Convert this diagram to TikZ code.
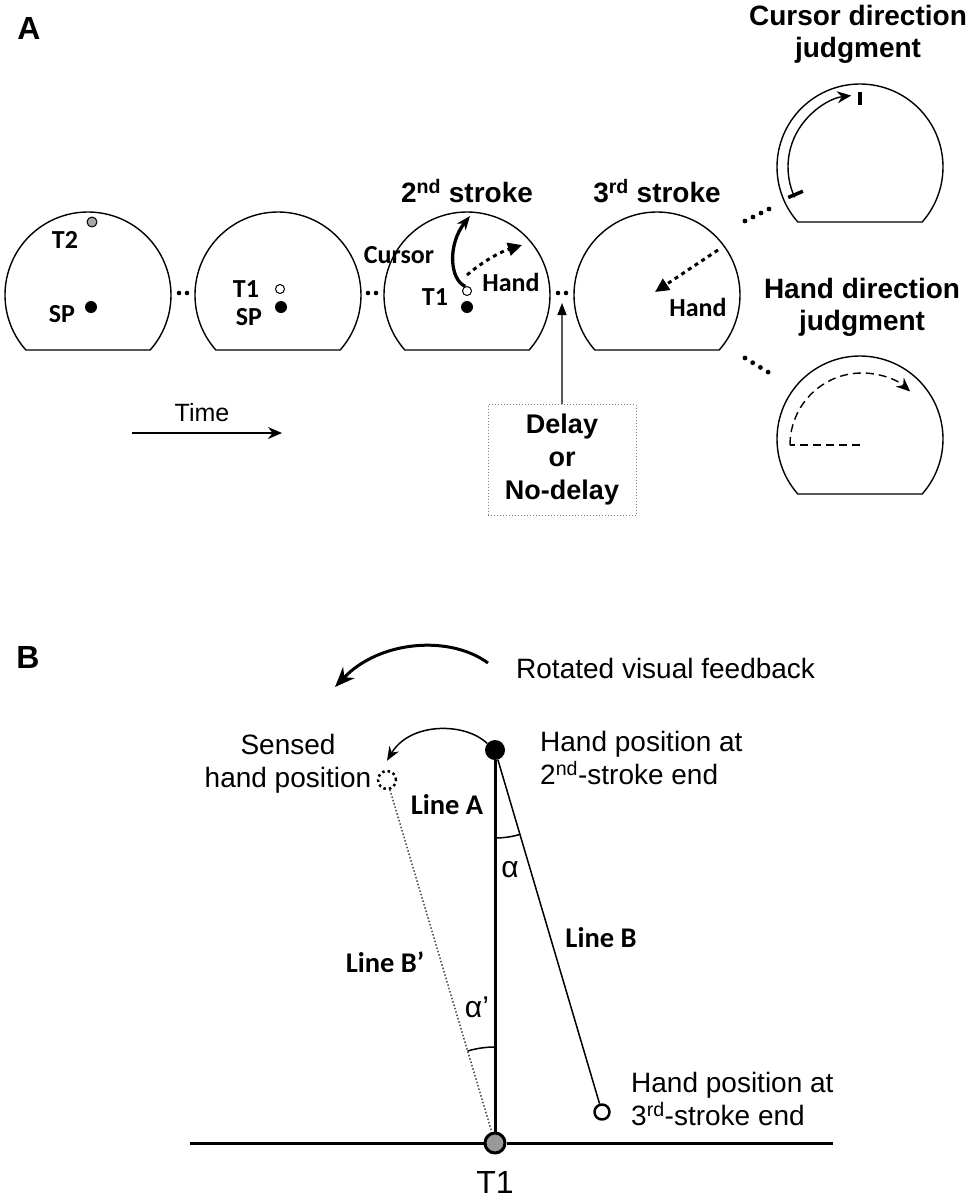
\documentclass[tikz,border=0pt]{standalone}
\usepackage{fontspec}
\setmainfont{Liberation Sans}
\newfontfamily\calfont{Carlito}
\usetikzlibrary{arrows.meta}
\begin{document}
\begin{tikzpicture}[x=1pt, y=1pt, line join=round,
  >={Stealth[length=14pt,width=12pt]},
  dome/.style={line width=1.4pt},
  lab/.style={font=\calfont\bfseries\fontsize{26}{30}\selectfont, inner sep=0pt},
  ttl/.style={font=\bfseries\fontsize{28}{32}\selectfont, align=center, inner sep=0pt},
  txt/.style={font=\fontsize{28}{33}\selectfont, align=left, inner sep=0pt},
  linelab/.style={font=\calfont\bfseries\fontsize{28.5}{30}\selectfont},
  bdot/.style={circle, fill=black, inner sep=0pt, minimum size=12pt},
  odot/.style={circle, draw=black, line width=1pt, fill=white, inner sep=0pt, minimum size=9pt},
  dotarrow/.style={line width=3pt, dash pattern=on 4pt off 4pt, -{Triangle[length=14pt,width=13pt]}}]
\useasboundingbox (0,0) rectangle (975,-1200);
% panel letters
\node[font=\bfseries\fontsize{32}{32}\selectfont] (pA) at (29,-28) {A};
\node[font=\bfseries\fontsize{32}{32}\selectfont] (pB) at (28,-657) {B};
% screens
\foreach \cx/\cy/\nm in {88/-295/domeA,278/-295/domeB,467/-295/domeC,657/-295/domeD,860/-167/domeE,860/-439/domeF}{
  \coordinate (\nm) at (\cx,\cy);
  \draw[dome] (\nm) ++(221.5:83) arc[start angle=221.5,end angle=-41.5,radius=83] -- cycle;
}
% dots between screens
\foreach \x in {179,187,368,376,558,566} \fill (\x,-293) circle (2.3);
\foreach \i in {0,...,3} \fill (745+8*\i,-221+4*\i) circle (2.4);
\foreach \i in {0,...,3} \fill (745+7.7*\i,-358-4.7*\i) circle (2.4);
% screen 1
\node[circle, draw, fill=gray!70, line width=1pt, minimum size=10pt, inner sep=0pt] (tgt2) at (92,-222) {};
\node[lab] (tgt2lab) at (65,-240) {T2};
\node[bdot] (spA) at (91,-307) {};
\node[lab] (spAlab) at (62,-314) {SP};
% screen 2
\node[odot] (tgtB) at (280,-289) {};
\node[lab] (tgtBlab) at (246,-289) {T1};
\node[bdot] (spB) at (281,-307) {};
\node[lab] (spBlab) at (249,-317) {SP};
% screen 3: 2nd stroke
\node[ttl] (strk2) at (467,-191) {2\textsuperscript{nd} stroke};
\node[odot] (tgtC) at (467,-291) {};
\node[bdot] (spC) at (467,-307) {};
\node[lab] (tgtClab) at (435,-297) {T1};
\node[lab] (cursC) at (399,-255) {Cursor};
\node[lab] (handC) at (511,-282) {Hand};
\coordinate (curTip) at (470,-216);
\coordinate (handTip) at (522,-245);
\draw[line width=3.3pt, -{Stealth[length=14pt,width=11pt]}] (tgtC.110) .. controls (450,-280) and (447,-245) .. (curTip);
\draw[dotarrow] ([yshift=11pt]tgtC.north) .. controls (482,-262) and (500,-252) .. (handTip);
% screen 4: 3rd stroke
\node[ttl] (strk3) at (657,-191) {3\textsuperscript{rd} stroke};
\node[lab] (handD) at (698,-307) {Hand};
\coordinate (hdS) at (718,-250);
\coordinate (hdE) at (655,-292);
\draw[dotarrow] (hdS) -- (hdE);
% cursor direction judgment
\node[ttl] (curJ) at (858,-34) {Cursor direction\\judgment};
\draw[line width=1.4pt, ->] (domeE) ++(205:72) arc[start angle=205,end angle=97,radius=72];
\draw[line width=3.5pt] (domeE) ++(203:62) -- ++(203:16);
\draw[line width=3.5pt] (domeE) ++(90:62) -- ++(90:13);
% hand direction judgment
\node[ttl] (handJ) at (862,-307) {Hand direction\\judgment};
\coordinate (hjC) at (860,-445);
\draw[line width=1.4pt, dash pattern=on 8pt off 5pt] (hjC) -- ++(-70,0);
\draw[line width=1.4pt, dash pattern=on 8pt off 5pt, ->] (hjC) ++(180:70) arc[start angle=180,end angle=48,radius=72];
% time
\coordinate (tS) at (132,-433);
\coordinate (tE) at (282,-433);
\draw[line width=1.5pt, ->] (tS) -- (tE);
\node[font=\fontsize{25}{30}\selectfont] (time) at (202,-413) {Time};
% delay
\node[draw=gray, dotted, line width=1pt, minimum width=148pt, minimum height=111pt, inner sep=0pt,
  font=\bfseries\fontsize{27}{33}\selectfont, align=center] (delay) at (562,-460) {Delay\\or\\No-delay};
\coordinate (gap) at (562,-303);
\draw[gray!70!black, line width=1.3pt, -{Triangle[length=12pt,width=9pt,color=black]}] (delay.north) -- (gap);
% panel B
\coordinate (rotS) at (488,-663);
\coordinate (rotE) at (335,-687);
\draw[line width=3pt, -{Stealth[length=20pt,width=16pt]}] (rotS) .. controls (450,-635) and (380,-640) .. (rotE);
\node[txt, anchor=west] (rotlab) at (516,-668) {Rotated visual feedback};
\node[circle, fill=black, minimum size=20pt, inner sep=0pt] (hand2) at (495,-750) {};
\node[circle, draw, dash pattern=on 2.5pt off 3pt, line width=2.5pt, minimum size=18pt, inner sep=0pt] (sensed) at (387,-780) {};
\node[circle, draw, line width=2.5pt, fill=white, minimum size=15pt, inner sep=0pt] (hand3) at (602,-1112) {};
\node[circle, draw, line width=3pt, fill=gray!80, minimum size=20pt, inner sep=0pt] (t1) at (495,-1143) {};
\coordinate (baseL) at (190,-1143);
\coordinate (baseR) at (833,-1143);
\draw[line width=3pt] (baseL) -- (t1.west) (t1.east) -- (baseR);
\draw[line width=3pt] (hand2) -- (t1);
\draw[line width=1.5pt] (hand2) -- (hand3);
\draw[gray!60!black, line width=1.5pt, dotted] (sensed) -- (t1);
\draw[line width=1.5pt, -{Stealth[length=14pt,width=11pt]}] (hand2.140) .. controls (465,-722) and (410,-722) .. ([yshift=9pt]sensed.north);
\draw[line width=1.5pt] (hand2.center) ++(-90:88) arc[start angle=-90,end angle=-73.5,radius=88];
\draw[line width=1.5pt] (t1.center) ++(90:96) arc[start angle=90,end angle=106.6,radius=96];
\node[txt, anchor=west] (h2lab) at (540,-758) {Hand position at\\2\textsuperscript{nd}-stroke end};
\node[txt, align=center] (senlab) at (288,-764) {Sensed\\hand position};
\node[txt, anchor=west] (h3lab) at (631,-1099) {Hand position at\\3\textsuperscript{rd}-stroke end};
\node[linelab] (lineA) at (447,-805) {Line A};
\node[linelab] (lineB) at (601,-938) {Line B};
\node[linelab] (lineBp) at (385,-962) {Line B’};
\node[font=\fontsize{30}{30}\selectfont] (alpha) at (510,-870) {α};
\node[font=\fontsize{30}{30}\selectfont] (alphap) at (477,-1007) {α’};
\node[font=\fontsize{32}{32}\selectfont] (t1lab) at (495,-1182) {T1};
\end{tikzpicture}
\end{document}
